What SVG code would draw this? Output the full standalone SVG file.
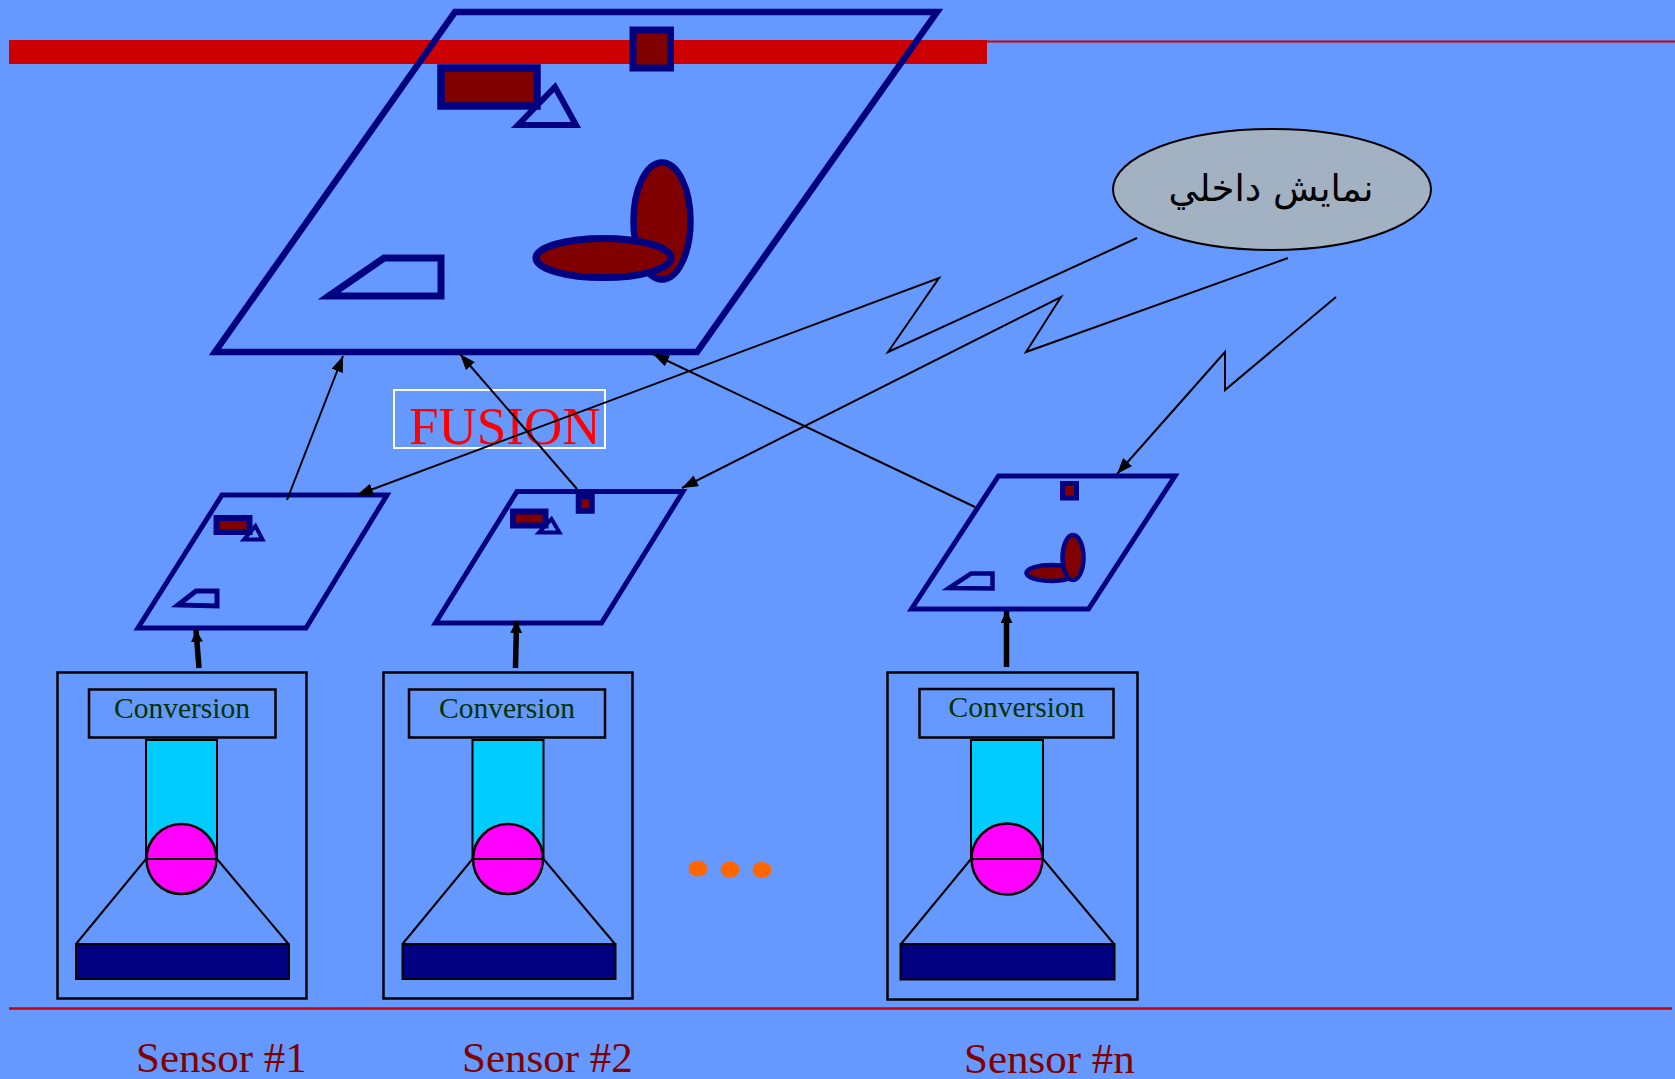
<svg xmlns="http://www.w3.org/2000/svg" width="1675" height="1079" viewBox="0 0 1675 1079">
  <defs>
    <marker id="arrowThin" markerUnits="userSpaceOnUse" markerWidth="18" markerHeight="12" refX="16" refY="6" orient="auto">
      <path d="M0,0 L16,6 L0,12 Z" fill="#000"/>
    </marker>
    <marker id="arrowThick" markerUnits="userSpaceOnUse" markerWidth="13" markerHeight="12" refX="12" refY="6" orient="auto">
      <path d="M0,0 L12,6 L0,12 Z" fill="#000"/>
    </marker>
  </defs>
  <style>
    .plane { fill: none; stroke: #000080; stroke-linejoin: miter; }
    .obj { stroke: #000080; }
    .fillM { fill: #800000; }
    .hollow { fill: none; }
    .wire { fill: none; stroke: #000; stroke-width: 2; }
    .feed { fill: none; stroke: #000; stroke-width: 5.5; }
    .frame { fill: none; stroke: #000; stroke-width: 2.5; }
    .tube { fill: #00CCFF; stroke: #000; stroke-width: 2; }
    .lens { fill: #FF00FF; stroke: #000; stroke-width: 2.5; }
    .cone { stroke: #000; stroke-width: 2; fill: none; }
    .base { fill: #000080; stroke: #000; stroke-width: 2; }
    .conv { font-family: "Liberation Serif", serif; font-size: 29.5px; fill: #003300; text-anchor: middle; }
    .label { font-family: "Liberation Serif", serif; font-size: 43px; fill: #800000; }
  </style>

  <!-- backdrop and rules -->
  <rect width="1675" height="1079" fill="#6699FF"/>
  <rect x="9" y="40" width="978" height="24" fill="#CC0000"/>
  <line x1="987" y1="41.5" x2="1675" y2="41.5" stroke="#CC0000" stroke-width="2"/>
  <line x1="9" y1="1008.5" x2="1672" y2="1008.5" stroke="#CC0000" stroke-width="2.5"/>

  <!-- fused scene -->
  <g id="fused-plane">
    <polygon class="plane" stroke-width="6.5" points="455,12 937,12 697,352 215,352"/>
    <rect class="obj fillM" stroke-width="7" x="633" y="30" width="37.5" height="38"/>
    <rect class="obj fillM" stroke-width="7.5" x="441" y="68" width="96" height="38"/>
    <polygon class="obj hollow" stroke-width="6" points="518,125 555,87 576,125"/>
    <ellipse class="obj fillM" stroke-width="6.5" cx="662" cy="221" rx="28.5" ry="58.5"/>
    <ellipse class="obj fillM" stroke-width="7" cx="603.5" cy="258" rx="67.5" ry="19.5"/>
    <polygon class="obj hollow" stroke-width="7" points="329,296 384,258 441,258 441,296"/>
  </g>

  <!-- FUSION caption -->
  <g id="fusion-label">
    <rect x="394" y="390" width="211" height="58" fill="none" stroke="#FFFFFF" stroke-width="2"/>
    <text x="409" y="444" font-family="Liberation Serif, serif" font-size="53" fill="#FF0000">FUSION</text>
  </g>

  <!-- internal representation bubble -->
  <g id="internal-view">
    <ellipse cx="1272" cy="189.5" rx="159" ry="60.5" fill="#A3B2C2" stroke="#000" stroke-width="2"/>
    <text x="1271" y="201" font-family="DejaVu Sans, sans-serif" font-size="37" fill="#000" text-anchor="middle" direction="rtl">نمايش داخلي</text>
  </g>

  <!-- sensor 1 view -->
  <g id="plane-1">
    <polygon class="plane" stroke-width="5" points="222,495 387,495 306,628 138,628"/>
    <rect class="obj fillM" stroke-width="6" x="216.5" y="518" width="33" height="14"/>
    <polygon class="obj hollow" stroke-width="4" points="244,539.5 255.5,526 262.5,539.5"/>
    <polygon class="obj hollow" stroke-width="5" points="178,605 196,591 217,591 217,606"/>
  </g>

  <!-- sensor 2 view -->
  <g id="plane-2">
    <polygon class="plane" stroke-width="5" points="517,491.5 683,491.5 601.5,623 435.5,623"/>
    <rect class="obj fillM" stroke-width="6" x="513" y="511.5" width="32.5" height="14"/>
    <polygon class="obj hollow" stroke-width="4" points="539,532.5 551.5,519 559.5,532.5"/>
    <rect class="obj fillM" stroke-width="5.5" x="578.5" y="496.5" width="13.5" height="14.5"/>
  </g>

  <!-- sensor n view -->
  <g id="plane-n">
    <polygon class="plane" stroke-width="5" points="998.5,476 1175,476 1088.5,609 911.5,609"/>
    <rect class="obj fillM" stroke-width="5" x="1062.5" y="483.5" width="14" height="14.5"/>
    <ellipse class="obj fillM" stroke-width="4.5" cx="1051.5" cy="573" rx="25" ry="8"/>
    <ellipse class="obj fillM" stroke-width="4.5" cx="1073" cy="557.5" rx="10.5" ry="22.5"/>
    <polygon class="obj hollow" stroke-width="4.5" points="949,588 971,573.5 992.5,573.5 992.5,588.5"/>
  </g>

  <!-- sensor units -->
  <g id="sensor-1">
    <rect class="frame" x="57.5" y="672.5" width="249" height="326"/>
    <rect class="frame" x="89" y="689.5" width="186.5" height="48"/>
    <text class="conv" x="182" y="717.5">Conversion</text>
    <rect class="tube" x="146" y="740" width="71" height="119"/>
    <line class="cone" x1="146" y1="859" x2="76" y2="944"/>
    <line class="cone" x1="217" y1="859" x2="288.5" y2="944"/>
    <circle class="lens" cx="181.5" cy="859" r="35"/>
    <line class="cone" stroke-width="2.5" x1="146.5" y1="859" x2="216.5" y2="859"/>
    <rect class="base" x="76" y="944" width="213" height="35"/>
  </g>

  <g id="sensor-2">
    <rect class="frame" x="383.5" y="672.5" width="249" height="326"/>
    <rect class="frame" x="409" y="689.5" width="196" height="48"/>
    <text class="conv" x="507" y="717.5">Conversion</text>
    <rect class="tube" x="472.5" y="740" width="71" height="119"/>
    <line class="cone" x1="472.5" y1="859" x2="402.5" y2="944"/>
    <line class="cone" x1="543.5" y1="859" x2="615" y2="944"/>
    <circle class="lens" cx="508" cy="859" r="35"/>
    <line class="cone" stroke-width="2.5" x1="473" y1="859" x2="543" y2="859"/>
    <rect class="base" x="402.5" y="944" width="213" height="35"/>
  </g>

  <g id="sensor-n">
    <rect class="frame" x="887.5" y="672.5" width="250" height="327"/>
    <rect class="frame" x="919.5" y="689" width="194" height="48.5"/>
    <text class="conv" x="1016.5" y="717">Conversion</text>
    <rect class="tube" x="971" y="740" width="72" height="119"/>
    <line class="cone" x1="971" y1="859" x2="901" y2="944"/>
    <line class="cone" x1="1043" y1="859" x2="1114" y2="944"/>
    <circle class="lens" cx="1007" cy="859" r="35.5"/>
    <line class="cone" stroke-width="2.5" x1="971.5" y1="859" x2="1042.5" y2="859"/>
    <rect class="base" x="900.5" y="944" width="214" height="35.5"/>
  </g>

  <!-- ellipsis between sensors -->
  <g id="more-sensors" fill="#FF6600">
    <ellipse cx="698" cy="868.5" rx="9.5" ry="8"/>
    <ellipse cx="730" cy="869.5" rx="9.5" ry="8"/>
    <ellipse cx="762" cy="870" rx="9.5" ry="8"/>
  </g>

  <!-- sensor captions -->
  <g id="captions">
    <text class="label" x="136" y="1072">Sensor #1</text>
    <text class="label" x="462" y="1072">Sensor #2</text>
    <text class="label" x="964" y="1073">Sensor #n</text>
  </g>

  <!-- connectors -->
  <g id="connectors">
    <line class="feed" x1="199" y1="668" x2="196" y2="630" marker-end="url(#arrowThick)"/>
    <line class="feed" x1="515.5" y1="668" x2="516.5" y2="621" marker-end="url(#arrowThick)"/>
    <line class="feed" x1="1006.5" y1="667" x2="1006.5" y2="611" marker-end="url(#arrowThick)"/>

    <line class="wire" x1="287" y1="500" x2="343" y2="356" marker-end="url(#arrowThin)"/>
    <line class="wire" x1="577" y1="489" x2="460" y2="354" marker-end="url(#arrowThin)"/>
    <line class="wire" x1="975" y1="507" x2="653" y2="354" marker-end="url(#arrowThin)"/>

    <polyline class="wire" points="1137,238 888,352 939,278 357,495" marker-end="url(#arrowThin)"/>
    <polyline class="wire" points="1288,258 1026,352 1061,297 682,488" marker-end="url(#arrowThin)"/>
    <polyline class="wire" points="1336,297 1225,390 1225,352 1117,474" marker-end="url(#arrowThin)"/>
  </g>
</svg>
